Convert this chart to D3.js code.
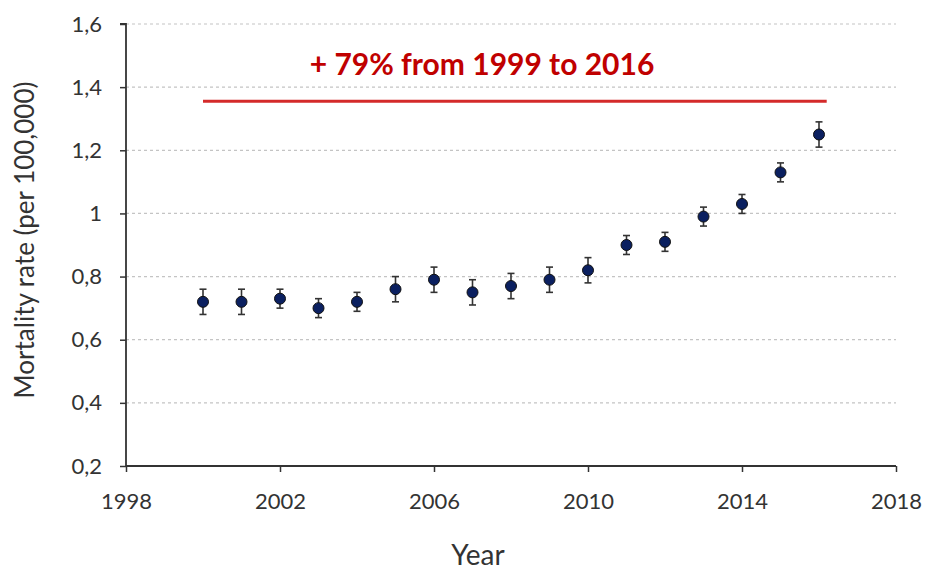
<!DOCTYPE html>
<html><head><meta charset="utf-8">
<script src="https://cdn.jsdelivr.net/npm/d3@7"></script>
<style>body{margin:0;background:#fff}svg{display:block}</style>
</head><body>
<script>
const years = [2000,2001,2002,2003,2004,2005,2006,2007,2008,2009,2010,2011,2012,2013,2014,2015,2016];
const rates = [0.72,0.72,0.73,0.70,0.72,0.76,0.79,0.75,0.77,0.79,0.82,0.90,0.91,0.99,1.03,1.13,1.25];
const errors = [0.04,0.04,0.03,0.03,0.03,0.04,0.04,0.04,0.04,0.04,0.04,0.03,0.03,0.03,0.03,0.03,0.04];
const xTicks = [1998,2002,2006,2010,2014,2018];
const yTicks = [0.2,0.4,0.6,0.8,1.0,1.2,1.4,1.6];
const annotationText = "+ 79% from 1999 to 2016";
const annotationLevel = 1.355;
const annotationRange = [2000,2016.2];

const W=925,H=570;
const svg=d3.select("body").append("svg").attr("width",W).attr("height",H);
const x=d3.scaleLinear().domain([1998,2018]).range([126,896]);
const y=d3.scaleLinear().domain([0.2,1.6]).range([466,24]);
const font="Lato, 'Open Sans', sans-serif";
const yLabel=v=>(v===1?"1":d3.format(".1f")(v).replace(".",","));

// grid
svg.append("g").selectAll("line").data(yTicks.filter(v=>v>0.2)).join("line")
 .attr("x1",x(1998)).attr("x2",x(2018)).attr("y1",d=>y(d)).attr("y2",d=>y(d))
 .attr("stroke","#c4c4c4").attr("stroke-width",1.2).attr("stroke-dasharray","3,3");

// axes
const ya=svg.append("g").attr("transform",`translate(${x(1998)},0)`)
 .call(d3.axisLeft(y).tickValues(yTicks).tickFormat(yLabel).tickSize(6).tickPadding(18));
const xa=svg.append("g").attr("transform",`translate(0,${y(0.2)})`)
 .call(d3.axisBottom(x).tickValues(xTicks).tickFormat(d3.format("d")).tickSize(6).tickPadding(21));
[ya,xa].forEach(g=>{
 g.selectAll(".tick line").attr("stroke","#333").attr("stroke-width",1.5);
 g.selectAll(".tick text").attr("fill","#333").style("font-family",font).style("font-size","22px");
});
ya.select(".domain").attr("stroke","#333").attr("stroke-width",1.8).attr("d",`M-6,${y(1.6)}H0V${y(0.2)}`);
xa.select(".domain").attr("stroke","#333").attr("stroke-width",1.8).attr("d",`M${x(1998)},0H${x(2018)}`);

// axis titles
svg.append("text").attr("x",478).attr("y",565).attr("text-anchor","middle")
 .style("font-family",font).style("font-size","28px").attr("fill","#333").text("Year");
svg.append("text").attr("transform","translate(34,240) rotate(-90)").attr("text-anchor","middle")
 .style("font-family",font).style("font-size","26px").attr("fill","#333").text("Mortality rate (per 100,000)");

// annotation
svg.append("line").attr("x1",x(annotationRange[0])).attr("x2",x(annotationRange[1]))
 .attr("y1",y(annotationLevel)).attr("y2",y(annotationLevel))
 .attr("stroke","#d42a2a").attr("stroke-width",3);
svg.append("text").attr("x",482).attr("y",75).attr("text-anchor","middle")
 .style("font-family",font).style("font-weight","bold").style("font-size","30px")
 .attr("fill","#c00000").text(annotationText);

// error bars
const data=years.map((yr,i)=>({yr,v:rates[i],e:errors[i]}));
const eb=svg.append("g").selectAll("g").data(data).join("g").attr("stroke","#333").attr("stroke-width",1.6);
eb.append("line").attr("x1",d=>x(d.yr)).attr("x2",d=>x(d.yr)).attr("y1",d=>y(d.v-d.e)).attr("y2",d=>y(d.v+d.e));
eb.append("line").attr("x1",d=>x(d.yr)-3.5).attr("x2",d=>x(d.yr)+3.5).attr("y1",d=>y(d.v+d.e)).attr("y2",d=>y(d.v+d.e));
eb.append("line").attr("x1",d=>x(d.yr)-3.5).attr("x2",d=>x(d.yr)+3.5).attr("y1",d=>y(d.v-d.e)).attr("y2",d=>y(d.v-d.e));

// points
svg.append("g").selectAll("circle").data(data).join("circle")
 .attr("cx",d=>x(d.yr)).attr("cy",d=>y(d.v)).attr("r",5.5)
 .attr("fill","#0b2060").attr("stroke","#111").attr("stroke-width",1);
</script>
</body></html>
